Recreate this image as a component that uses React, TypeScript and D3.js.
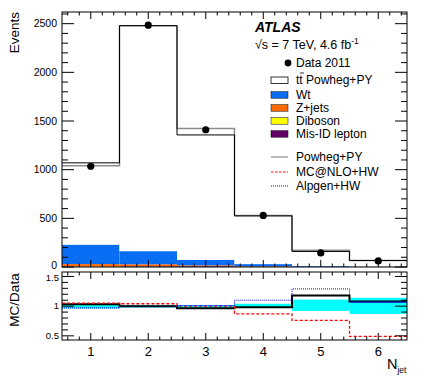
import React from 'react';
import * as d3 from 'd3';

// N_jet bins
const nJet = [1, 2, 3, 4, 5, 6];
const dataCounts = [1035, 2485, 1410, 530, 145, 62];

// stacked MC, bottom to top
const misId = [3, 8, 8, 4, 2, 1];
const diboson = [2, 2, 1, 1, 0.5, 0.2];
const zJets = [25, 18, 8, 3, 1, 0.5];
const wt = [200, 135, 57, 22, 8, 3];
const ttbar = [840, 2317, 1283, 495, 148, 62];

// alternative prediction drawn in grey
const powhegPy = [1040, 2480, 1423, 530, 172, 68];

// ratio panel
const ratioNominal = [1.03, 1.0, 0.965, 0.98, 1.18, 1.08];
const bandLow = [0.96, 0.98, 0.97, 0.97, 0.92, 0.87];
const bandHigh = [1.04, 1.02, 1.02, 1.04, 1.11, 1.14];
const ratioMcnlo = [1.05, 1.04, 1.0, 0.87, 0.76, 0.49];
const ratioAlpgen = [0.97, 0.99, 1.01, 1.1, 1.29, 1.07];

const yTicks = [0, 500, 1000, 1500, 2000, 2500];
const ratioTicks = [0.5, 1, 1.5];
const ratioTickLabels = ['0.5', '1', '1.5'];

const stack = [
  { name: 'Mis-ID lepton', values: misId, color: '#660066' },
  { name: 'Diboson', values: diboson, color: '#ffff00' },
  { name: 'Z+jets', values: zJets, color: '#ff6a00' },
  { name: 'Wt', values: wt, color: '#0a6ef5' },
  { name: 'ttbar', values: ttbar, color: '#ffffff' },
];

const font = '"Liberation Sans", Arial, Helvetica, sans-serif';

export default function App() {
  const left = 62;
  const right = 407;
  const mainTop = 12;
  const mainBottom = 267;
  const ratioTop = 272;
  const ratioBottom = 340;

  const x = d3.scaleLinear().domain([0.5, 6.5]).range([left, right]);
  const y = d3.scaleLinear().domain([0, 2620]).range([mainBottom, mainTop]);
  const yr = d3.scaleLinear().domain([0.43, 1.575]).range([ratioBottom, ratioTop]);

  const edges = nJet.map(n => n - 0.5).concat([6.5]);
  const stepPath = (vals: number[], scale: d3.ScaleLinear<number, number>) => {
    const pts: [number, number][] = edges.map((e, i) => [e, vals[Math.min(i, vals.length - 1)]]);
    return d3.line<[number, number]>()
      .x(d => x(d[0]))
      .y(d => scale(d[1]))
      .curve(d3.curveStepAfter)(pts) || '';
  };

  const totals = nJet.map((_, i) => d3.sum(stack, s => s.values[i]));

  // stacked rects
  const rects: JSX.Element[] = [];
  nJet.forEach((n, i) => {
    let base = 0;
    stack.forEach(s => {
      const v = s.values[i];
      rects.push(
        <rect key={s.name + n} x={x(n - 0.5)} width={x(n + 0.5) - x(n - 0.5)}
          y={y(base + v)} height={y(base) - y(base + v)} fill={s.color} />
      );
      base += v;
    });
  });

  const xMinor = d3.range(0.6, 6.5, 0.2).filter(v => Math.abs(v - Math.round(v)) > 0.05);
  const yMinor = d3.range(0, 2620, 100).filter(v => v % 500 !== 0);
  const rMinor = d3.range(0.5, 1.58, 0.1).filter(v => Math.abs(v * 2 - Math.round(v * 2)) > 0.05);

  const frameTicks = (top: number, bottom: number) => (
    <g stroke="#000" strokeWidth={1}>
      {nJet.map(n => (
        <g key={'mj' + n}>
          <line x1={x(n)} x2={x(n)} y1={bottom} y2={bottom - 7} />
          <line x1={x(n)} x2={x(n)} y1={top} y2={top + 7} />
        </g>
      ))}
      {xMinor.map(v => (
        <g key={'mn' + v}>
          <line x1={x(v)} x2={x(v)} y1={bottom} y2={bottom - 3.5} />
          <line x1={x(v)} x2={x(v)} y1={top} y2={top + 3.5} />
        </g>
      ))}
    </g>
  );

  const legendX = 271;
  const legendText = 296;
  const legendFs = 12;
  const legendRows = [
    { label: 'Wt', color: '#0a6ef5', y: 95 },
    { label: 'Z+jets', color: '#ff6a00', y: 108 },
    { label: 'Diboson', color: '#ffff00', y: 121 },
    { label: 'Mis-ID lepton', color: '#660066', y: 134 },
  ];

  return (
    <svg width={425} height={391} style={{ position: 'absolute', left: 0, top: 0, background: '#fff' }}
      fontFamily={font}>
      {/* main panel */}
      <g>{rects}</g>
      <path d={stepPath(powhegPy, y)} fill="none" stroke="#8a8a8a" strokeWidth={1.5} />
      <path d={stepPath(totals, y)} fill="none" stroke="#000" strokeWidth={1} />
      {nJet.map((n, i) => (
        <circle key={'d' + n} cx={x(n)} cy={y(dataCounts[i])} r={3.6} fill="#000" />
      ))}
      <rect x={left} y={mainTop} width={right - left} height={mainBottom - mainTop}
        fill="none" stroke="#000" strokeWidth={1} />
      {frameTicks(mainTop, mainBottom)}
      <g stroke="#000">
        {yTicks.map(t => (
          <g key={'yt' + t}>
            <line x1={left} x2={left + 12} y1={y(t)} y2={y(t)} />
            <line x1={right} x2={right - 12} y1={y(t)} y2={y(t)} />
          </g>
        ))}
        {yMinor.map(t => (
          <g key={'ym' + t}>
            <line x1={left} x2={left + 6} y1={y(t)} y2={y(t)} />
            <line x1={right} x2={right - 6} y1={y(t)} y2={y(t)} />
          </g>
        ))}
      </g>
      {yTicks.map(t => (
        <text key={'yl' + t} x={57} y={t === 0 ? y(t) - 2 : y(t)} dy="0.35em" textAnchor="end" fontSize={10.5} fill="#000">{t}</text>
      ))}
      <text transform={`translate(19,12) rotate(-90)`} textAnchor="end" fontSize={13.5} fill="#000">Events</text>

      {/* labels and legend */}
      <text x={255} y={32} fontSize={14} fontWeight="bold" fontStyle="italic" fill="#000">ATLAS</text>
      <text x={255} y={49} fontSize={12.5} fill="#000">
        √s = 7 TeV, 4.6 fb<tspan dy={-5} fontSize={8.5}>-1</tspan>
      </text>
      <circle cx={288} cy={63} r={3.4} fill="#000" />
      <text x={legendText} y={63} dy="0.35em" fontSize={legendFs} fill="#000">Data 2011</text>
      <rect x={legendX} y={77} width={17} height={6.5} fill="#fff" stroke="#000" strokeWidth={0.8} />
      <text x={legendText} y={80} dy="0.35em" fontSize={legendFs} fill="#000">tt Powheg+PY</text>
      <line x1={legendText + 3.8} x2={legendText + 8} y1={73} y2={73} stroke="#000" strokeWidth={0.8} />
      {legendRows.map(r => (
        <g key={r.label}>
          <rect x={legendX} y={r.y - 3.3} width={17} height={6.5} fill={r.color} stroke="#000" strokeWidth={0.5} />
          <text x={legendText} y={r.y} dy="0.35em" fontSize={legendFs} fill="#000">{r.label}</text>
        </g>
      ))}
      <line x1={legendX} x2={legendX + 17} y1={157} y2={157} stroke="#8a8a8a" strokeWidth={1.2} />
      <text x={legendText} y={157} dy="0.35em" fontSize={legendFs} fill="#000">Powheg+PY</text>
      <line x1={legendX} x2={legendX + 17} y1={172} y2={172} stroke="#ff0000" strokeWidth={1} strokeDasharray="2.5,1.5" />
      <text x={legendText} y={172} dy="0.35em" fontSize={legendFs} fill="#000">MC@NLO+HW</text>
      <line x1={legendX} x2={legendX + 17} y1={186} y2={186} stroke="#0000ff" strokeWidth={1} strokeDasharray="1,1" />
      <text x={legendText} y={186} dy="0.35em" fontSize={legendFs} fill="#000">Alpgen+HW</text>

      {/* ratio panel */}
      {nJet.map((n, i) => (
        <rect key={'b' + n} x={x(n - 0.5)} width={x(n + 0.5) - x(n - 0.5)}
          y={yr(bandHigh[i])} height={yr(bandLow[i]) - yr(bandHigh[i])} fill="#00ffff" />
      ))}
      <path d={stepPath(ratioNominal, yr)} fill="none" stroke="#000" strokeWidth={2} />
      <path d={stepPath(ratioMcnlo, yr)} fill="none" stroke="#ff0000" strokeWidth={1.3} strokeDasharray="3,2" />
      <path d={stepPath(ratioAlpgen, yr)} fill="none" stroke="#0000ff" strokeWidth={1} strokeDasharray="1,1" />
      <rect x={left} y={ratioTop} width={right - left} height={ratioBottom - ratioTop}
        fill="none" stroke="#000" strokeWidth={1} />
      {frameTicks(ratioTop, ratioBottom)}
      <g stroke="#000">
        {ratioTicks.map(t => (
          <g key={'rt' + t}>
            <line x1={left} x2={left + 12} y1={yr(t)} y2={yr(t)} />
            <line x1={right} x2={right - 12} y1={yr(t)} y2={yr(t)} />
          </g>
        ))}
        {rMinor.map(t => (
          <g key={'rm' + t}>
            <line x1={left} x2={left + 6} y1={yr(t)} y2={yr(t)} />
            <line x1={right} x2={right - 6} y1={yr(t)} y2={yr(t)} />
          </g>
        ))}
      </g>
      {ratioTicks.map((t, i) => (
        <text key={'rl' + t} x={59} y={t === 1.5 ? yr(t) + 1 : yr(t)} dy="0.35em" textAnchor="end" fontSize={9.5} fill="#000">{ratioTickLabels[i]}</text>
      ))}
      <text transform={`translate(19,300) rotate(-90)`} textAnchor="middle" fontSize={13.5} fill="#000">MC/Data</text>

      {nJet.map(n => (
        <text key={'xl' + n} x={x(n)} y={351} dy="0.35em" textAnchor="middle" fontSize={13} fill="#000">{n}</text>
      ))}
      <text x={387} y={369} fontSize={14.5} fill="#000">N<tspan dy={4} fontSize={8.5}>jet</tspan></text>
    </svg>
  );
}
